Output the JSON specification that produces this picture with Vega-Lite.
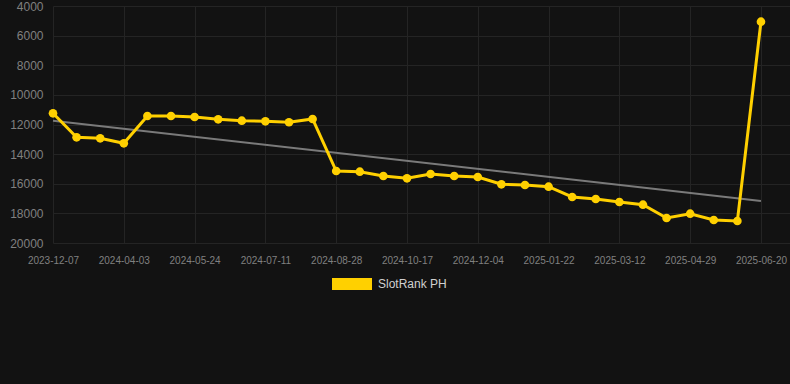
{
  "$schema": "https://vega.github.io/schema/vega-lite/v6.json",
  "width": 737,
  "height": 237,
  "autosize": {"type": "none"},
  "padding": {"left": 53, "top": 6, "right": 0, "bottom": 141},
  "background": "#121212",
  "config": {
    "view": {"stroke": null},
    "font": "Liberation Sans",
    "axis": {"gridColor": "#242424", "gridWidth": 1, "domain": false, "ticks": false, "labelColor": "#808080", "labelFont": "Liberation Sans", "title": null}
  },
  "datasets": {
    "main": [
      {"date": "2023-12-07", "rank": 11244, "series": "SlotRank PH"},
      {"date": "2024-01-15", "rank": 12864, "series": "SlotRank PH"},
      {"date": "2024-02-24", "rank": 12932, "series": "SlotRank PH"},
      {"date": "2024-04-03", "rank": 13269, "series": "SlotRank PH"},
      {"date": "2024-04-20", "rank": 11426, "series": "SlotRank PH"},
      {"date": "2024-05-07", "rank": 11426, "series": "SlotRank PH"},
      {"date": "2024-05-24", "rank": 11494, "series": "SlotRank PH"},
      {"date": "2024-06-09", "rank": 11649, "series": "SlotRank PH"},
      {"date": "2024-06-25", "rank": 11743, "series": "SlotRank PH"},
      {"date": "2024-07-11", "rank": 11784, "series": "SlotRank PH"},
      {"date": "2024-07-27", "rank": 11851, "series": "SlotRank PH"},
      {"date": "2024-08-12", "rank": 11629, "series": "SlotRank PH"},
      {"date": "2024-08-28", "rank": 15139, "series": "SlotRank PH"},
      {"date": "2024-09-14", "rank": 15186, "series": "SlotRank PH"},
      {"date": "2024-09-30", "rank": 15477, "series": "SlotRank PH"},
      {"date": "2024-10-17", "rank": 15632, "series": "SlotRank PH"},
      {"date": "2024-11-02", "rank": 15342, "series": "SlotRank PH"},
      {"date": "2024-11-18", "rank": 15477, "series": "SlotRank PH"},
      {"date": "2024-12-04", "rank": 15544, "series": "SlotRank PH"},
      {"date": "2024-12-20", "rank": 16037, "series": "SlotRank PH"},
      {"date": "2025-01-05", "rank": 16084, "series": "SlotRank PH"},
      {"date": "2025-01-22", "rank": 16199, "series": "SlotRank PH"},
      {"date": "2025-02-07", "rank": 16894, "series": "SlotRank PH"},
      {"date": "2025-02-23", "rank": 17029, "series": "SlotRank PH"},
      {"date": "2025-03-12", "rank": 17232, "series": "SlotRank PH"},
      {"date": "2025-03-28", "rank": 17414, "series": "SlotRank PH"},
      {"date": "2025-04-13", "rank": 18312, "series": "SlotRank PH"},
      {"date": "2025-04-29", "rank": 18022, "series": "SlotRank PH"},
      {"date": "2025-05-16", "rank": 18447, "series": "SlotRank PH"},
      {"date": "2025-06-02", "rank": 18515, "series": "SlotRank PH"},
      {"date": "2025-06-20", "rank": 5060, "series": "SlotRank PH"}
    ],
    "trend": [
      {"date": "2023-12-07", "rank": 11743},
      {"date": "2025-06-20", "rank": 17164}
    ]
  },
  "encoding": {
    "x": {
      "field": "date",
      "type": "ordinal",
      "sort": "ascending",
      "scale": {"type": "point", "padding": 0.615, "align": 0},
      "axis": {
        "values": ["2023-12-07", "2024-04-03", "2024-05-24", "2024-07-11", "2024-08-28", "2024-10-17", "2024-12-04", "2025-01-22", "2025-03-12", "2025-04-29", "2025-06-20"],
        "labelAngle": 0,
        "labelFontSize": 10,
        "labelPadding": 12,
        "grid": true
      }
    },
    "y": {
      "field": "rank",
      "type": "quantitative",
      "scale": {"domain": [4000, 20000], "reverse": true, "nice": false, "zero": false},
      "axis": {
        "values": [4000, 6000, 8000, 10000, 12000, 14000, 16000, 18000, 20000],
        "format": "d",
        "labelFontSize": 12,
        "labelPadding": 10,
        "grid": true
      }
    }
  },
  "layer": [
    {
      "data": {"name": "trend"},
      "mark": {"type": "line", "color": "#7a7a7a", "strokeWidth": 2}
    },
    {
      "data": {"name": "main"},
      "mark": {"type": "line", "strokeWidth": 3},
      "encoding": {
        "color": {
          "field": "series",
          "type": "nominal",
          "scale": {"range": ["#FFD000"]},
          "legend": {
            "orient": "none",
            "legendX": 279,
            "legendY": 258,
            "title": null,
            "symbolType": "M-1,-0.3H1V0.3H-1Z",
            "symbolSize": 1600,
            "symbolStrokeWidth": 0,
            "symbolFillColor": "#FFD000",
            "labelFontSize": 12,
            "labelColor": "#d0d0d0",
            "labelOffset": 6,
            "encode": {"symbols": {"update": {"fill": {"value": "#FFD000"}, "stroke": {"value": "transparent"}}}}
          }
        }
      }
    },
    {
      "data": {"name": "main"},
      "mark": {"type": "point", "filled": true, "size": 75, "opacity": 1},
      "encoding": {
        "color": {"field": "series", "type": "nominal"}
      }
    }
  ]
}
